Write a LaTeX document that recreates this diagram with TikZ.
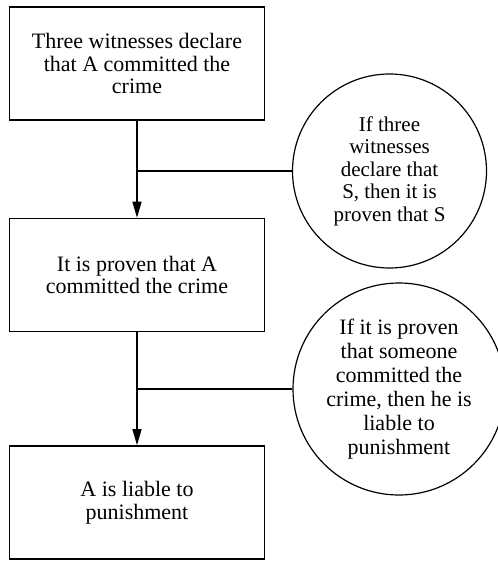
\documentclass[tikz,border=0pt]{standalone}
\usepackage{fontspec}
\setmainfont{Liberation Serif}
\usetikzlibrary{arrows.meta}

\begin{document}
\begin{tikzpicture}[x=1pt, y=-1pt,
  box/.style={draw, line width=1.6pt, minimum width=255pt, minimum height=113pt,
    align=center, inner sep=0pt, font=\fontsize{22}{22.5}\selectfont},
  rule/.style={draw, circle, line width=1.2pt, align=center, inner sep=0pt,
    font=\fontsize{22}{24}\selectfont},
  link/.style={line width=1.6pt},
  flow/.style={link, -{Triangle[length=16pt, width=9pt]}}]
\useasboundingbox (0,0) rectangle (497,561);
% Cadena de conclusiones
\node[box] (witness) at (137,63.5) {Three witnesses declare\\that A committed the\\crime};
\node[box] (proven) at (137,275) {It is proven that A\\committed the crime};
\node[box] (liable) at (137,502.5) {A is liable to\\punishment};
% Reglas
\node[rule, minimum size=194pt, font=\fontsize{21}{22.5}\selectfont] (ruleS) at (389.5,171) {If three\\witnesses\\declare that\\S, then it is\\proven that S};
\node[rule, minimum size=212pt] (ruleP) at (399,389) {If it is proven\\that someone\\committed the\\crime, then he is\\liable to\\punishment};
% Flechas
\draw[flow] (witness) -- (proven);
\draw[flow] (proven) -- (liable);
% Ramas hacia las reglas
\draw[link] (ruleS.west) -- (ruleS.west -| witness.south);
\draw[link] (ruleP.west) -- (ruleP.west -| proven.south);
\end{tikzpicture}
\end{document}
